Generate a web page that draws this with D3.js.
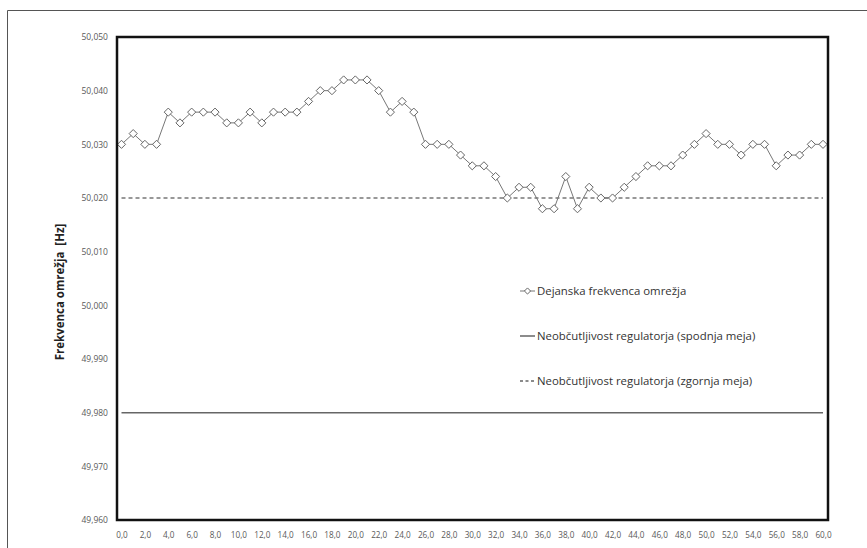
<!DOCTYPE html>
<html>
<head>
<meta charset="utf-8">
<script src="https://cdn.jsdelivr.net/npm/d3@7"></script>
<style>
  html, body { margin: 0; padding: 0; background: #fff; }
  svg { display: block; }
</style>
</head>
<body>
<svg id="chart" width="867" height="548"></svg>
<script>
// Time in minutes (0..60, step 1)
const minutes = d3.range(0, 61);
// Measured grid frequency [Hz]
const frequency = [
  50.030, 50.032, 50.030, 50.030, 50.036, 50.034, 50.036, 50.036, 50.036, 50.034,
  50.034, 50.036, 50.034, 50.036, 50.036, 50.036, 50.038, 50.040, 50.040, 50.042,
  50.042, 50.042, 50.040, 50.036, 50.038, 50.036, 50.030, 50.030, 50.030, 50.028,
  50.026, 50.026, 50.024, 50.020, 50.022, 50.022, 50.018, 50.018, 50.024, 50.018,
  50.022, 50.020, 50.020, 50.022, 50.024, 50.026, 50.026, 50.026, 50.028, 50.030,
  50.032, 50.030, 50.030, 50.028, 50.030, 50.030, 50.026, 50.028, 50.028, 50.030,
  50.030
];
// Governor dead band limits
const lowerLimit = 49.980;
const upperLimit = 50.020;
const yTicks = [49.960, 49.970, 49.980, 49.990, 50.000, 50.010, 50.020, 50.030, 50.040, 50.050];
const xTicks = d3.range(0, 61, 2);
const legendLabels = [
  "Dejanska frekvenca omrežja",
  "Neobčutljivost regulatorja (spodnja meja)",
  "Neobčutljivost regulatorja (zgornja meja)"
];
const yTitle = "Frekvenca omrežja  [Hz]";

const svg = d3.select("#chart");
const font = "'Open Sans', 'Noto Sans', sans-serif";

// outer frame (left and top edges visible)
svg.append("path")
  .attr("d", "M7.5,548 V10.5 H867")
  .attr("fill", "none").attr("stroke", "#555").attr("stroke-width", 1);

const plot = { left: 117, top: 37, right: 828, bottom: 520 };

const x = d3.scaleLinear().domain([0, 60]).range([121.5, 823]);
const y = d3.scaleLinear().domain([49.960, 50.050]).range([plot.bottom, plot.top]);

const fmt = v => d3.format(".3f")(v).replace(".", ",");
const fmtX = v => d3.format(".1f")(v).replace(".", ",");

// y axis labels
const yAxis = d3.axisLeft(y).tickValues(yTicks).tickFormat(fmt).tickSize(0).tickPadding(9);
const gy = svg.append("g").attr("transform", `translate(${plot.left},0)`).call(yAxis);
gy.select(".domain").remove();
gy.selectAll("text").attr("font-family", font).attr("font-size", 8.5).attr("fill", "#595959");

// x axis labels
const xAxis = d3.axisBottom(x).tickValues(xTicks).tickFormat(fmtX).tickSize(0).tickPadding(12);
const gx = svg.append("g").attr("transform", `translate(0,${plot.bottom})`).call(xAxis);
gx.select(".domain").remove();
gx.selectAll("text").attr("font-family", font).attr("font-size", 8.2).attr("fill", "#595959");

// y axis title
svg.append("text")
  .attr("transform", `translate(64,${292}) rotate(-90)`)
  .attr("text-anchor", "middle")
  .attr("font-family", font).attr("font-size", 11.5).attr("font-weight", "bold")
  .attr("fill", "#222")
  .style("white-space", "pre")
  .text(yTitle);

// dead band limits
svg.append("line")
  .attr("x1", x(0)).attr("x2", x(60))
  .attr("y1", y(lowerLimit)).attr("y2", y(lowerLimit))
  .attr("stroke", "#666").attr("stroke-width", 1.5);
svg.append("line")
  .attr("x1", x(0)).attr("x2", x(60))
  .attr("y1", y(upperLimit)).attr("y2", y(upperLimit))
  .attr("stroke", "#777").attr("stroke-width", 1.5).attr("stroke-dasharray", "4,3");

// frequency series
const series = minutes.map((m, i) => [m, frequency[i]]);
svg.append("path")
  .datum(series)
  .attr("d", d3.line().x(d => x(d[0])).y(d => y(d[1])))
  .attr("fill", "none").attr("stroke", "#777").attr("stroke-width", 1);

const diamond = d3.symbol().type(d3.symbolDiamond2).size(42);
svg.append("g").selectAll("path")
  .data(series)
  .join("path")
  .attr("transform", d => `translate(${x(d[0])},${y(d[1])})`)
  .attr("d", diamond)
  .attr("fill", "#fff").attr("stroke", "#666").attr("stroke-width", 1);

// plot border
svg.append("rect")
  .attr("x", plot.left).attr("y", plot.top)
  .attr("width", plot.right - plot.left).attr("height", plot.bottom - plot.top)
  .attr("fill", "none").attr("stroke", "#111").attr("stroke-width", 2.5);

// legend
const legendY = [291, 336, 381];
const lg = svg.append("g");
legendLabels.forEach((label, i) => {
  const yy = legendY[i];
  const l = lg.append("line")
    .attr("x1", 520).attr("x2", 535).attr("y1", yy).attr("y2", yy)
    .attr("stroke", i === 0 ? "#777" : "#666").attr("stroke-width", i === 0 ? 1 : 1.5);
  if (i === 2) l.attr("stroke-dasharray", "3,2.5");
  if (i === 0) {
    lg.append("path")
      .attr("transform", `translate(527.5,${yy})`)
      .attr("d", d3.symbol().type(d3.symbolDiamond2).size(24))
      .attr("fill", "#fff").attr("stroke", "#666");
  }
  lg.append("text")
    .attr("x", 537).attr("y", yy).attr("dy", "0.35em")
    .attr("font-family", font).attr("font-size", 11.4).attr("fill", "#333")
    .text(label);
});
</script>
</body>
</html>
